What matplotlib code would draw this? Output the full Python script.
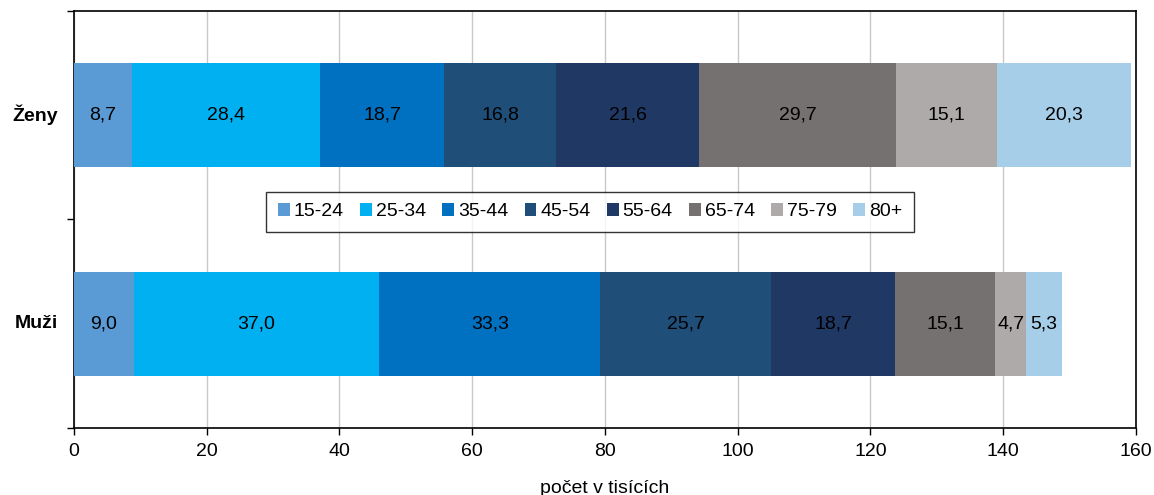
import matplotlib
matplotlib.use("Agg")
import matplotlib.pyplot as plt
import numpy as np

plt.rcParams['font.family'] = ['Liberation Sans', 'DejaVu Sans']

categories = ["Muži", "Ženy"]
age_groups = ["15-24", "25-34", "35-44", "45-54", "55-64", "65-74", "75-79", "80+"]
muzi = [9.0, 37.0, 33.3, 25.7, 18.7, 15.1, 4.7, 5.3]
zeny = [8.7, 28.4, 18.7, 16.8, 21.6, 29.7, 15.1, 20.3]
colors = ["#5B9BD5", "#00B0F0", "#0070C0", "#1F4E79", "#203864", "#767171", "#AEAAAA", "#A6CEE8"]
xticks = [0, 20, 40, 60, 80, 100, 120, 140, 160]

FS = 14

fig = plt.figure(figsize=(11.54, 4.95), dpi=100)
ax = fig.add_axes([0.0641, 0.1354, 0.9203, 0.8424])

data = np.array([muzi, zeny])
left = np.zeros(2)
ypos = np.arange(len(categories))
for i, g in enumerate(age_groups):
    vals = data[:, i]
    ax.barh(ypos, vals, left=left, height=0.5, color=colors[i], label=g, zorder=3)
    for y, v, l in zip(ypos, vals, left):
        ax.text(l + v / 2, y, f"{v:.1f}".replace(".", ","), ha="center", va="center",
                fontsize=FS, color="black", zorder=4)
    left += vals

ax.set_xlim(0, 160)
ax.set_ylim(-0.5, 1.5)
ax.set_xticks(xticks)
ax.set_xticklabels([str(t) for t in xticks], fontsize=FS)
ax.set_yticks([-0.5, 0.5, 1.5])
ax.set_yticklabels([])
ax.tick_params(axis='y', length=5, direction='out', width=1)
ax.tick_params(axis='x', length=5, direction='out', width=1, pad=6)
for y, c in zip(ypos, categories):
    ax.text(-2.4, y, c, ha="right", va="center", fontsize=FS, fontweight="bold")

ax.grid(axis='x', color="#C8C8C8", linewidth=1, zorder=0)
for s in ax.spines.values():
    s.set_color("black")
    s.set_linewidth(1.2)

ax.set_xlabel("počet v tisících", fontsize=FS, labelpad=14)

leg = ax.legend(loc="center", bbox_to_anchor=(0.486, 0.518), ncol=8, fontsize=FS,
                frameon=True, fancybox=False, edgecolor="black", handlelength=0.6,
                handleheight=0.6, handletextpad=0.2, columnspacing=0.85, borderpad=0.6)
leg.get_frame().set_linewidth(1)
leg.set_zorder(5)

fig.savefig("out.png", dpi=100)
